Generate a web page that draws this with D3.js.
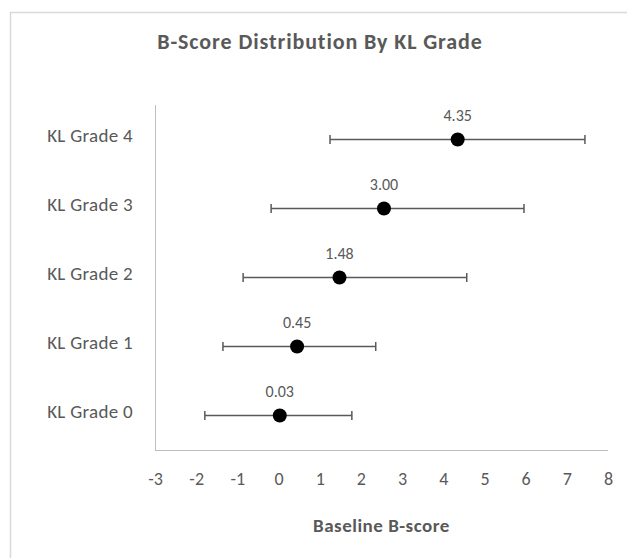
<!DOCTYPE html>
<html>
<head>
<meta charset="utf-8">
<script src="https://cdn.jsdelivr.net/npm/d3@7"></script>
<style>
  html, body { margin: 0; padding: 0; background: #fff; }
  svg { display: block; font-family: Carlito, Calibri, Lato, "Open Sans", sans-serif; }
</style>
</head>
<body>
<svg id="chart" width="627" height="558"></svg>
<script>
const categories = ["KL Grade 0", "KL Grade 1", "KL Grade 2", "KL Grade 3", "KL Grade 4"];
const means = [0.03, 0.45, 1.48, 2.56, 4.35];
const lowerBounds = [-1.79, -1.35, -0.86, -0.18, 1.25];
const upperBounds = [1.78, 2.36, 4.57, 5.96, 7.44];
const valueLabels = ["0.03", "0.45", "1.48", "3.00", "4.35"];
const xTicks = [-3, -2, -1, 0, 1, 2, 3, 4, 5, 6, 7, 8];
const title = "B-Score Distribution By KL Grade";
const xTitle = "Baseline B-score";

(function () {
const data = categories.map((c, i) => ({
  cat: c, mean: means[i], lo: lowerBounds[i], hi: upperBounds[i], label: valueLabels[i]
}));

const svg = d3.select("#chart");
const textColor = "#595959";
const pLeft = 155, pRight = 608, pTop = 105, pBottom = 450;
const fam = "Carlito, Calibri, Lato, 'Open Sans', sans-serif";

// chart area frame (cropped on right/bottom)
svg.append("rect")
  .attr("x", 10.5).attr("y", 12.5)
  .attr("width", 700).attr("height", 700)
  .attr("fill", "none").attr("stroke", "#d9d9d9").attr("stroke-width", 1.5);

const x = d3.scaleLinear().domain([-3, 8]).range([pLeft, pRight]);
const y = d3.scaleBand().domain(categories).range([pBottom, pTop]);

// axis lines
svg.append("line").attr("x1", pLeft + 0.5).attr("x2", pLeft + 0.5).attr("y1", pTop).attr("y2", pBottom)
  .attr("stroke", "#bfbfbf").attr("stroke-width", 1);
svg.append("line").attr("x1", pLeft).attr("x2", pRight).attr("y1", pBottom + 0.5).attr("y2", pBottom + 0.5)
  .attr("stroke", "#bfbfbf").attr("stroke-width", 1);

// x axis tick labels
const xAxis = d3.axisBottom(x).tickValues(xTicks).tickSize(0).tickPadding(0).tickFormat(d => String(d));
const gx = svg.append("g").attr("transform", `translate(0,${pBottom})`).call(xAxis);
gx.select(".domain").remove();
gx.selectAll("text").attr("fill", textColor).attr("font-size", 18).style("font-family", fam)
  .attr("y", 35).attr("dy", null);

// y axis labels
const yAxis = d3.axisLeft(y).tickSize(0).tickPadding(22);
const gy = svg.append("g").attr("transform", `translate(${pLeft},0)`).call(yAxis);
gy.select(".domain").remove();
gy.selectAll("text").attr("fill", textColor).attr("font-size", 19).style("font-family", fam)
  .attr("letter-spacing", 0.3).attr("dy", 2.5);

const cy = d => y(d.cat) + y.bandwidth() / 2;

// error bars
const g = svg.append("g");
g.selectAll("line.bar").data(data).join("line").attr("class", "bar")
  .attr("x1", d => x(d.lo)).attr("x2", d => x(d.hi))
  .attr("y1", cy).attr("y2", cy)
  .attr("stroke", "#595959").attr("stroke-width", 1.5);
["lo", "hi"].forEach(k => {
  g.selectAll("line.cap-" + k).data(data).join("line").attr("class", "cap-" + k)
    .attr("x1", d => x(d[k])).attr("x2", d => x(d[k]))
    .attr("y1", d => cy(d) - 4.5).attr("y2", d => cy(d) + 4.5)
    .attr("stroke", "#595959").attr("stroke-width", 1.5);
});

// points
g.selectAll("circle").data(data).join("circle")
  .attr("cx", d => x(d.mean)).attr("cy", cy).attr("r", 7)
  .attr("fill", "#000");

// data labels
g.selectAll("text.lbl").data(data).join("text").attr("class", "lbl")
  .attr("x", d => x(d.mean)).attr("y", d => cy(d) - 19)
  .attr("text-anchor", "middle").attr("fill", textColor).attr("font-size", 16)
  .text(d => d.label);

// title
svg.append("text").attr("x", 320).attr("y", 49).attr("text-anchor", "middle")
  .attr("fill", textColor).attr("font-size", 22).attr("font-weight", "bold")
  .attr("letter-spacing", 0.9)
  .text(title);

// x axis title
svg.append("text").attr("x", (pLeft + pRight) / 2).attr("y", 532).attr("text-anchor", "middle")
  .attr("fill", textColor).attr("font-size", 19).attr("font-weight", "bold")
  .attr("letter-spacing", 0.5)
  .text(xTitle);
})();
</script>
</body>
</html>
